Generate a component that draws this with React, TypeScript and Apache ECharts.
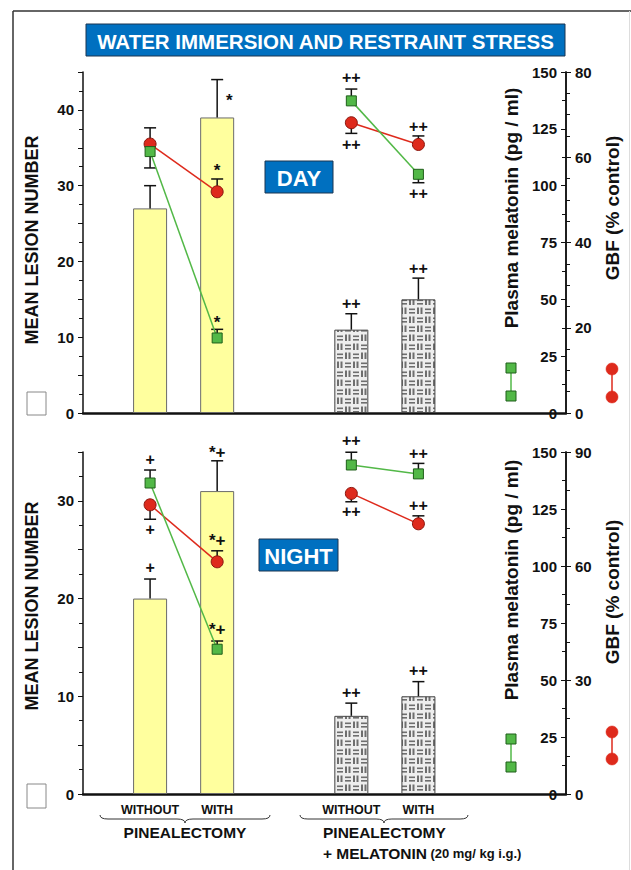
import React, { useEffect, useRef } from "react";
import * as echarts from "echarts";

const FONT = "'Liberation Sans', Arial, Helvetica, sans-serif";

// category positions on the hidden x value axis and their labels
const xPos = [1, 2, 4, 5];
const xLabels = ["WITHOUT", "WITH", "WITHOUT", "WITH"];

// DAY panel
const dayLesion = [27, 39, 11, 15];
const dayLesionErr = [30, 44, 13.1, 17.8];
const dayMelatonin = [115, 33, 137.3, 105];
const dayMelatoninErr = [107.8, 36.8, 142.5, 101.3];
const dayGbf = [63.1, 51.9, 68.1, 63.0];
const dayGbfErr = [66.9, 54.9, 65.6, 65.0];

// NIGHT panel
const nightLesion = [20, 31, 8, 10];
const nightLesionErr = [22, 34.1, 9.3, 11.5];
const nightMelatonin = [136.4, 63.5, 144.3, 140.4];
const nightMelatoninErr = [142.1, 67.1, 149.9, 145.0];
const nightGbf = [76.1, 61.1, 79.1, 71.1];
const nightGbfErr = [72.3, 64.0, 76.9, 73.2];

// significance marks: [x, value on the series' axis, text]
const dayLesionMarks: [number, number, string][] = [[2.18, 41.2, "*"], [4, 14.5, "++"], [5, 19.1, "++"]];
const dayMelatoninMarks: [number, number, string][] = [[2, 39.8, "*"], [4, 147.4, "++"], [5, 96.7, "++"]];
const dayGbfMarks: [number, number, string][] = [[2, 56.9, "*"], [4, 62.9, "++"], [5, 67.3, "++"]];
const nightLesionMarks: [number, number, string][] = [[1, 23.2, "+"], [2, 35.0, "*+"], [4, 10.4, "++"], [5, 12.6, "++"]];
const nightMelatoninMarks: [number, number, string][] = [[1, 146.8, "+"], [2, 72.0, "*+"], [4, 155, "++"], [5, 149.4, "++"]];
const nightGbfMarks: [number, number, string][] = [[1, 69.5, "+"], [2, 66.6, "*+"], [4, 74.3, "++"], [5, 75.9, "++"]];

// axis ranges
const lesionMax = [45, 35];
const melatoninMax = 150;
const melatoninInterval = 25;
const gbfMax = [80, 90];
const gbfInterval = [20, 30];
const gbfMinorSplit = [4, 3];

const GREEN = "#52B847";
const GREEN_DARK = "#1F5F1A";
const RED = "#DE2A1C";
const RED_DARK = "#8A140C";
const BLUE = "#0070C0";

try {
  echarts.graphic.registerShape(
    "brace",
    echarts.graphic.extendPath(
      "M0,0 Q0,4 8,4 L77,4 Q85,4 85,8 Q85,4 93,4 L162,4 Q170,4 170,0",
      {}
    ) as any
  );
} catch (e) {
  // ignore
}

function makePattern() {
  const c = document.createElement("canvas");
  c.width = 16;
  c.height = 18;
  const ctx = c.getContext("2d")!;
  ctx.fillStyle = "#eeeeee";
  ctx.fillRect(0, 0, 16, 18);
  ctx.fillStyle = "#6e6e6e";
  const vert = (ox: number, oy: number) => {
    ctx.fillRect(ox + 1, oy + 1.5, 2, 6.5);
    ctx.fillRect(ox + 4.5, oy + 1.5, 2, 6.5);
  };
  const horiz = (ox: number, oy: number) => {
    ctx.fillRect(ox + 1, oy + 2.5, 6, 1.6);
    ctx.fillRect(ox + 1, oy + 6, 6, 1.6);
  };
  vert(0, 0);
  horiz(8, 0);
  horiz(0, 9);
  vert(8, 9);
  return c;
}

function errSeries(xi: number, yi: number, vals: number[], ends: number[]) {
  return {
    type: "custom",
    xAxisIndex: xi,
    yAxisIndex: yi,
    z: 3,
    silent: true,
    data: xPos.map((x, i) => [x, vals[i], ends[i]]),
    renderItem: (params: any, api: any) => {
      const p0 = api.coord([api.value(0), api.value(1)]);
      const p1 = api.coord([api.value(0), api.value(2)]);
      return {
        type: "group",
        children: [
          { type: "line", shape: { x1: p0[0], y1: p0[1], x2: p1[0], y2: p1[1] }, style: { stroke: "#111", lineWidth: 1.5 } },
          { type: "line", shape: { x1: p1[0] - 6, y1: p1[1], x2: p1[0] + 6, y2: p1[1] }, style: { stroke: "#111", lineWidth: 1.5 } },
        ],
      };
    },
  };
}

function markSeries(xi: number, yi: number, marks: [number, number, string][]) {
  return {
    type: "custom",
    xAxisIndex: xi,
    yAxisIndex: yi,
    z: 6,
    silent: true,
    data: marks.map((m) => [m[0], m[1]]),
    renderItem: (params: any, api: any) => {
      const p = api.coord([api.value(0), api.value(1)]);
      const t = marks[params.dataIndex][2];
      return {
        type: "text",
        x: p[0],
        y: p[1],
        style: {
          text: t,
          fontSize: t.indexOf("*") >= 0 ? 17 : 16,
          fontWeight: "bold",
          fontFamily: FONT,
          fill: "#111",
          align: "center",
          verticalAlign: "middle",
        },
      };
    },
  };
}

function lineSeries(xi: number, yi: number, vals: number[], idx: number[], kind: "mel" | "gbf") {
  const isMel = kind === "mel";
  return {
    type: "line",
    xAxisIndex: xi,
    yAxisIndex: yi,
    z: isMel ? 5 : 4,
    data: idx.map((i) => [xPos[i], vals[i]]),
    symbol: isMel ? "rect" : "circle",
    symbolSize: isMel ? 10 : 12,
    lineStyle: { color: isMel ? GREEN : RED, width: 1.5 },
    itemStyle: { color: isMel ? GREEN : RED, borderColor: isMel ? GREEN_DARK : RED_DARK, borderWidth: 1 },
    silent: true,
  };
}

export default function App() {
  const ref = useRef<HTMLDivElement>(null);

  useEffect(() => {
    if (!ref.current) return;
    const chart = echarts.init(ref.current, undefined, { renderer: "svg" });
    const pattern = makePattern();

    const yellowStyle = { color: "#FFFF9E", borderColor: "#6b6b6b", borderWidth: 1 };
    const patternStyle = {
      color: { image: pattern, repeat: "repeat", imageWidth: 16, imageHeight: 18 },
      borderColor: "#444",
      borderWidth: 1,
    };

    const grids = [
      { left: 83, top: 72, width: 483, height: 341 },
      { left: 83, top: 452, width: 483, height: 342 },
    ];

    const xAxes = [0, 1].map((g) => ({
      type: "value",
      gridIndex: g,
      min: 0,
      max: 7.2,
      axisLine: { show: true, onZero: false, lineStyle: { color: "#111", width: 2.5 } },
      axisTick: { show: false },
      splitLine: { show: false },
      axisLabel:
        g === 1
          ? {
              show: true,
              customValues: xPos,
              margin: 9,
              fontSize: 12.5,
              fontWeight: "bold",
              fontFamily: FONT,
              color: "#111",
              formatter: (v: number) => {
                const i = xPos.indexOf(v);
                return i >= 0 ? xLabels[i] : "";
              },
            }
          : { show: false },
    }));

    const labelStyle = { fontSize: 15, fontWeight: "bold", fontFamily: FONT, color: "#111" };

    const yAxes: any[] = [];
    [0, 1].forEach((g) => {
      yAxes.push({
        type: "value",
        gridIndex: g,
        position: "left",
        min: 0,
        max: lesionMax[g],
        interval: 5,
        axisLine: { show: true, lineStyle: { color: "#111", width: 1.5 } },
        axisTick: { show: true, length: 5, lineStyle: { color: "#111", width: 1 } },
        minorTick: { show: true, splitNumber: 2, length: 4, lineStyle: { color: "#111", width: 1 } },
        axisLabel: { ...labelStyle, margin: 9, formatter: (v: number) => (v % 10 === 0 ? String(v) : "") },
        splitLine: { show: false },
      });
      yAxes.push({
        type: "value",
        gridIndex: g,
        position: "right",
        min: 0,
        max: melatoninMax,
        interval: melatoninInterval,
        axisLine: { show: true, lineStyle: { color: "#111", width: 1.5 } },
        axisTick: { show: true, inside: true, length: 5, lineStyle: { color: "#111", width: 1 } },
        minorTick: { show: true, splitNumber: 2, length: 4, lineStyle: { color: "#111", width: 1 } },
        axisLabel: { ...labelStyle, inside: true, margin: 9 },
        splitLine: { show: false },
      });
      yAxes.push({
        type: "value",
        gridIndex: g,
        position: "right",
        min: 0,
        max: gbfMax[g],
        interval: gbfInterval[g],
        axisLine: { show: true, lineStyle: { color: "#111", width: 1.5 } },
        axisTick: { show: true, length: 5, lineStyle: { color: "#111", width: 1 } },
        minorTick: { show: true, splitNumber: gbfMinorSplit[g], length: 4, lineStyle: { color: "#111", width: 1 } },
        axisLabel: { ...labelStyle, margin: 9 },
        splitLine: { show: false },
      });
    });

    const panels = [
      {
        lesion: dayLesion, lesionErr: dayLesionErr, mel: dayMelatonin, melErr: dayMelatoninErr,
        gbf: dayGbf, gbfErr: dayGbfErr, lm: dayLesionMarks, mm: dayMelatoninMarks, gm: dayGbfMarks,
      },
      {
        lesion: nightLesion, lesionErr: nightLesionErr, mel: nightMelatonin, melErr: nightMelatoninErr,
        gbf: nightGbf, gbfErr: nightGbfErr, lm: nightLesionMarks, mm: nightMelatoninMarks, gm: nightGbfMarks,
      },
    ];

    const series: any[] = [];
    panels.forEach((p, g) => {
      const yL = g * 3, yM = g * 3 + 1, yG = g * 3 + 2;
      series.push({
        type: "bar",
        xAxisIndex: g,
        yAxisIndex: yL,
        barWidth: 34,
        z: 2,
        silent: true,
        data: xPos.map((x, i) => ({ value: [x, p.lesion[i]], itemStyle: i < 2 ? yellowStyle : patternStyle })),
      });
      series.push(errSeries(g, yL, p.lesion, p.lesionErr));
      series.push(errSeries(g, yM, p.mel, p.melErr));
      series.push(errSeries(g, yG, p.gbf, p.gbfErr));
      series.push(lineSeries(g, yG, p.gbf, [0, 1], "gbf"));
      series.push(lineSeries(g, yG, p.gbf, [2, 3], "gbf"));
      series.push(lineSeries(g, yM, p.mel, [0, 1], "mel"));
      series.push(lineSeries(g, yM, p.mel, [2, 3], "mel"));
      series.push(markSeries(g, yL, p.lm));
      series.push(markSeries(g, yM, p.mm));
      series.push(markSeries(g, yG, p.gm));
    });

    const rotText = (text: string, x: number, y: number, size: number) => ({
      type: "text",
      x,
      y,
      rotation: Math.PI / 2,
      style: { text, fontSize: size, fontWeight: "bold", fontFamily: FONT, fill: "#111", align: "center", verticalAlign: "middle" },
    });

    const boxText = (text: string, x: number, y: number, w: number, h: number, size: number) => [
      { type: "rect", shape: { x, y, width: w, height: h }, style: { fill: BLUE, stroke: "#1b3550", lineWidth: 1 } },
      {
        type: "text",
        x: x + w / 2,
        y: y + h / 2 + 1,
        style: { text, fontSize: size, fontWeight: "bold", fontFamily: FONT, fill: "#fff", align: "center", verticalAlign: "middle" },
      },
    ];

    const legendGlyphs = (gy1: number, gy2: number, ry1: number, ry2: number) => [
      { type: "line", shape: { x1: 511, y1: gy1, x2: 511, y2: gy2 }, style: { stroke: GREEN, lineWidth: 1.5 } },
      { type: "rect", shape: { x: 506, y: gy1 - 5, width: 10, height: 10 }, style: { fill: GREEN, stroke: GREEN_DARK, lineWidth: 1 } },
      { type: "rect", shape: { x: 506, y: gy2 - 5, width: 10, height: 10 }, style: { fill: GREEN, stroke: GREEN_DARK, lineWidth: 1 } },
      { type: "line", shape: { x1: 612, y1: ry1, x2: 612, y2: ry2 }, style: { stroke: RED, lineWidth: 1.5 } },
      { type: "circle", shape: { cx: 612, cy: ry1, r: 6 }, style: { fill: RED, stroke: RED, lineWidth: 0.5 } },
      { type: "circle", shape: { cx: 612, cy: ry2, r: 6 }, style: { fill: RED, stroke: RED, lineWidth: 0.5 } },
    ];

    const graphic: any[] = [
      { type: "line", shape: { x1: 13, y1: 11, x2: 631, y2: 11 }, style: { stroke: "#333", lineWidth: 1.5 } },
      { type: "line", shape: { x1: 13, y1: 11, x2: 13, y2: 870 }, style: { stroke: "#333", lineWidth: 1.5 } },
      { type: "line", shape: { x1: 629.5, y1: 11, x2: 629.5, y2: 870 }, style: { stroke: "#ddd", lineWidth: 1 } },
      ...boxText("WATER IMMERSION AND RESTRAINT STRESS", 86, 24, 479, 32, 20.5),
      ...boxText("DAY", 265, 161, 68, 32, 22),
      ...boxText("NIGHT", 259, 539, 79, 32, 22),
      rotText("MEAN LESION NUMBER", 32, 240, 18),
      rotText("MEAN LESION NUMBER", 32, 606, 18),
      rotText("Plasma melatonin (pg / ml)", 511, 208, 19),
      rotText("Plasma melatonin (pg / ml)", 511, 580, 19),
      rotText("GBF (% control)", 612, 208, 19),
      rotText("GBF (% control)", 612, 592, 19),
      ...legendGlyphs(368, 396, 369, 397),
      ...legendGlyphs(739, 767, 732, 759),
      { type: "rect", shape: { x: 27, y: 392, width: 19, height: 23 }, style: { fill: "#fff", stroke: "#888", lineWidth: 1 } },
      { type: "rect", shape: { x: 27, y: 784, width: 19, height: 24 }, style: { fill: "#fff", stroke: "#888", lineWidth: 1 } },
      { type: "brace", x: 100, y: 815, scaleX: 1, scaleY: 1, style: { fill: "none", stroke: "#333", lineWidth: 1 } },
      { type: "brace", x: 300, y: 815, scaleX: 168 / 170, scaleY: 1, style: { fill: "none", stroke: "#333", lineWidth: 1 } },
      {
        type: "text",
        x: 185,
        y: 832,
        style: { text: "PINEALECTOMY", fontSize: 15.5, fontWeight: "bold", fontFamily: FONT, fill: "#111", align: "center", verticalAlign: "middle" },
      },
      {
        type: "text",
        x: 323,
        y: 832,
        style: { text: "PINEALECTOMY", fontSize: 15.5, fontWeight: "bold", fontFamily: FONT, fill: "#111", align: "left", verticalAlign: "middle" },
      },
      {
        type: "text",
        x: 323,
        y: 853,
        style: {
          text: "{a|+ MELATONIN} {b|(20 mg/ kg i.g.)}",
          fontFamily: FONT,
          fill: "#111",
          align: "left",
          verticalAlign: "middle",
          rich: {
            a: { fontSize: 15.5, fontWeight: "bold", fontFamily: FONT, fill: "#111" },
            b: { fontSize: 13, fontWeight: "bold", fontFamily: FONT, fill: "#111" },
          },
        },
      },
    ];

    chart.setOption({
      animation: false,
      backgroundColor: "#fff",
      textStyle: { fontFamily: FONT },
      grid: grids,
      xAxis: xAxes,
      yAxis: yAxes,
      series,
      graphic,
    } as any);

    return () => chart.dispose();
  }, []);

  return <div ref={ref} style={{ position: "absolute", left: 0, top: 0, width: 631, height: 870 }} />;
}
